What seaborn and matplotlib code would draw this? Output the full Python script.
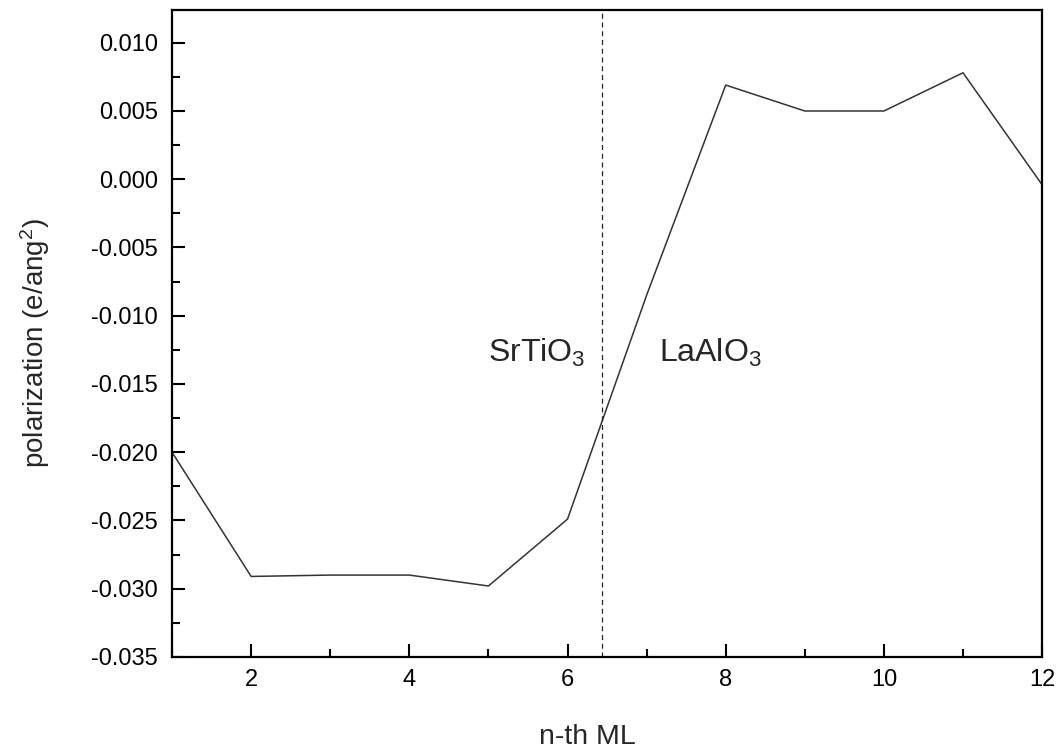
import matplotlib
matplotlib.use("Agg")
import matplotlib.pyplot as plt
import seaborn as sns
import pandas as pd
from matplotlib.ticker import MultipleLocator

layer = [1, 2, 3, 4, 5, 6, 7, 8, 9, 10, 11, 12]
polarization = [-0.0200, -0.0291, -0.0290, -0.0290, -0.0298, -0.0249,
                -0.0085, 0.0069, 0.0050, 0.0050, 0.0078, -0.0004]
interface_x = 6.43

sns.set_theme(style="ticks")
plt.rcParams['font.family'] = ['Liberation Sans', 'DejaVu Sans']
plt.rcParams['mathtext.fontset'] = 'custom'
plt.rcParams['mathtext.rm'] = 'Liberation Sans'
plt.rcParams['mathtext.it'] = 'Liberation Sans'

df = pd.DataFrame({"layer": layer, "pol": polarization})

fig = plt.figure(figsize=(10.6, 7.51), dpi=100)
ax = fig.add_axes([0.1623, 0.1252, 0.8208, 0.8615])
sns.lineplot(data=df, x="layer", y="pol", ax=ax, color="#333333", linewidth=1.1)
ax.axvline(interface_x, color="#222222", linestyle=(0, (4, 3)), linewidth=0.9)

ax.set_xlim(1, 12)
ax.set_ylim(-0.035, 0.0124)
ax.xaxis.set_major_locator(MultipleLocator(2))
ax.xaxis.set_minor_locator(MultipleLocator(1))
ax.yaxis.set_major_locator(MultipleLocator(0.005))
ax.yaxis.set_minor_locator(MultipleLocator(0.0025))
ax.yaxis.set_major_formatter(matplotlib.ticker.FuncFormatter(lambda v, p: f"{v:.3f}".replace("-0.000", "0.000")))

for s in ax.spines.values():
    s.set_visible(True)
    s.set_linewidth(1.6)
    s.set_color("black")
ax.tick_params(which="both", direction="in", top=False, right=False, colors="black", labelsize=17)
ax.tick_params(which="major", length=9.5, width=1.5)
ax.tick_params(axis="y", which="major", pad=10)
ax.tick_params(axis="x", which="major", pad=9)
ax.tick_params(which="minor", length=5.5, width=1.5)

ax.set_xlabel("n-th ML", fontsize=20.5)
ax.set_ylabel(r"polarization (e/ang$^2$)", fontsize=20)
ax.xaxis.set_label_coords(0.477, -0.124)
ax.yaxis.set_label_coords(-0.157, 0.485)
ax.xaxis.label.set_va("center")
ax.yaxis.label.set_va("center")

ax.text(4.99, -0.0134, r"SrTiO$_3$", fontsize=23, ha="left", va="baseline")
ax.text(7.16, -0.0134, r"LaAlO$_3$", fontsize=23, ha="left", va="baseline")

fig.savefig("out.png", dpi=100, facecolor="white")
